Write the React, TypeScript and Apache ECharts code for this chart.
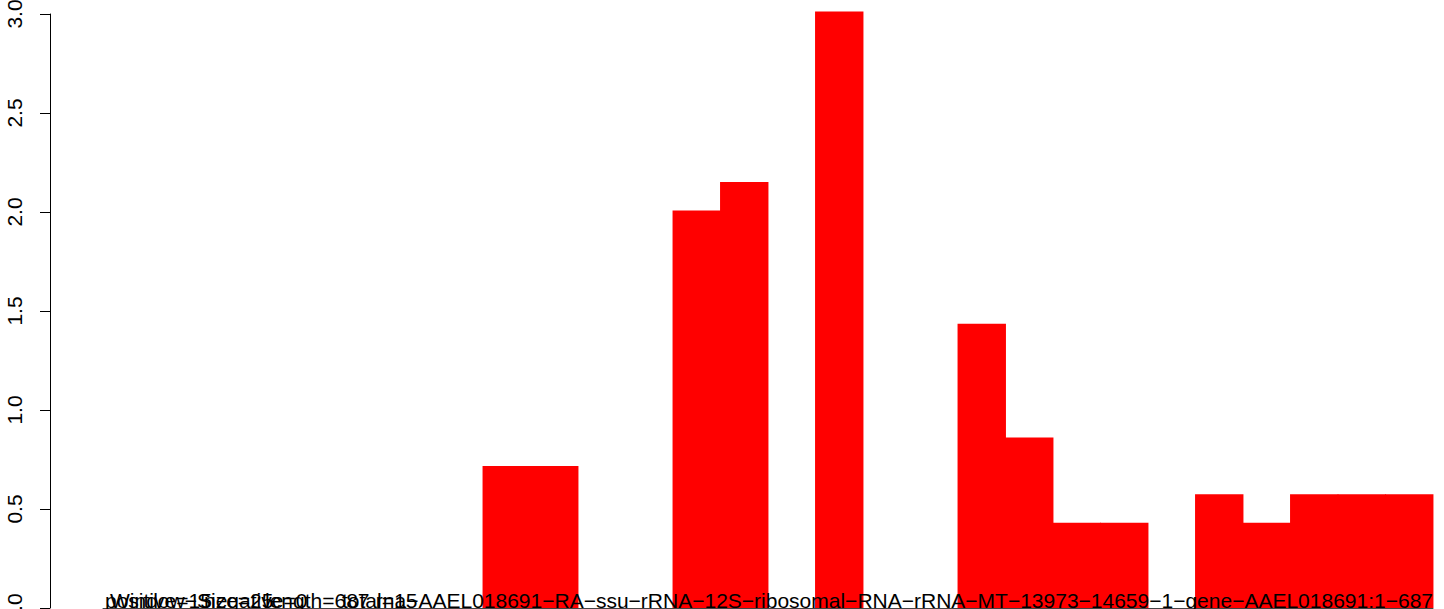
import React, { useEffect, useRef } from "react";
import * as echarts from "echarts";

// Window start positions (window size 25 over a 687 nt feature -> 28 windows)
const windowStarts: string[] = [
  "1", "26", "51", "76", "101", "126", "151", "176", "201", "226",
  "251", "276", "301", "326", "351", "376", "401", "426", "451", "476",
  "501", "526", "551", "576", "601", "626", "651", "676",
];

// Coverage per window
const coverage: number[] = [
  0, 0, 0, 0, 0, 0, 0, 0, 0.717, 0.717,
  0, 0, 2.008, 2.152, 0, 3.013, 0, 0, 1.435, 0.861,
  0.43, 0.43, 0, 0.574, 0.43, 0.574, 0.574, 0.574,
];

// Y axis ticks
const yMin = 0;
const yMax = 3;
const yStep = 0.5;

// Annotation texts at the foot of the plot
const annotations: string[] = [
  "positive=15",
  "Window−Size=25",
  "negative=0",
  "length=687",
  "total=15",
];
const featureName =
  "rna−AAEL018691−RA−ssu−rRNA−12S−ribosomal−RNA−rRNA−MT−13973−14659−1−gene−AAEL018691:1−687";

export default function App() {
  const ref = useRef<HTMLDivElement | null>(null);

  useEffect(() => {
    if (!ref.current) return;
    const chart = echarts.init(ref.current, null, { renderer: "svg" });
    const font = "'Liberation Sans', Arial, Helvetica, sans-serif";
    const annotationX = [105, 110, 204, 265, 342];
    const textY = 600;

    const graphics: any[] = annotations.map((t, i) => ({
      type: "text",
      x: annotationX[i],
      y: textY,
      silent: true,
      z: 100,
      style: {
        text: t,
        fill: "#000",
        font: `21px ${font}`,
        align: "left",
        verticalAlign: "middle",
      },
    }));
    graphics.push({
      type: "text",
      x: 1433,
      y: textY,
      silent: true,
      z: 100,
      style: {
        text: featureName,
        fill: "#000",
        font: `21px ${font}`,
        align: "right",
        verticalAlign: "middle",
      },
    });

    chart.setOption({
      animation: false,
      backgroundColor: "#fff",
      grid: {
        left: 103,
        top: 14,
        width: 1330,
        height: 594,
        containLabel: false,
        outerBoundsMode: "none",
      },
      xAxis: {
        type: "category",
        data: windowStarts,
        boundaryGap: true,
        axisLine: { show: true, lineStyle: { color: "#444", width: 1 } },
        axisTick: { show: false },
        axisLabel: { show: false },
        splitLine: { show: false },
      },
      yAxis: {
        type: "value",
        min: yMin,
        max: yMax,
        interval: yStep,
        offset: 53,
        axisLine: { show: true, lineStyle: { color: "#000", width: 1 } },
        axisTick: { show: true, inside: false, length: 10, lineStyle: { color: "#000", width: 1 } },
        axisLabel: {
          rotate: 90,
          margin: 25,
          fontSize: 21,
          fontFamily: font,
          color: "#000",
          align: "center",
          verticalAlign: "bottom",
          formatter: (v: number) => v.toFixed(1),
        },
        splitLine: { show: false },
      },
      series: [
        {
          type: "bar",
          data: coverage,
          barWidth: 48.4,
          barGap: "0%",
          clip: false,
          silent: true,
          itemStyle: { color: "#ff0000", borderWidth: 0 },
        },
      ],
      graphic: graphics,
    });
    return () => chart.dispose();
  }, []);

  return (
    <div
      ref={ref}
      style={{ position: "fixed", left: 0, top: 0, width: 1444, height: 609, background: "#fff" }}
    />
  );
}
